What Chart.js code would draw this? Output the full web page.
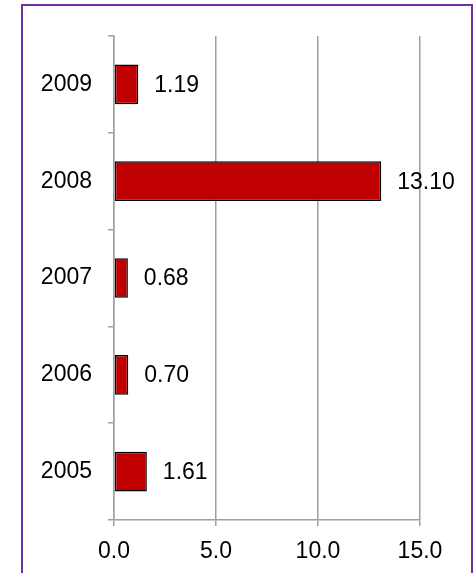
<!DOCTYPE html>
<html>
<head>
<meta charset="utf-8">
<script src="https://cdn.jsdelivr.net/npm/chart.js@4/dist/chart.umd.min.js"></script>
<style>
  html, body { margin: 0; padding: 0; background: #fff; }
  body { width: 475px; height: 573px; overflow: hidden; position: relative; }
  #frame {
    position: absolute; left: 21px; top: 4px; width: 448px; height: 600px;
    border: 2px solid #7030A0;
  }
  #wrap { position: absolute; left: 0; top: 0; width: 475px; height: 573px; }
</style>
</head>
<body>
<div id="frame"></div>
<div id="wrap"><canvas id="chart"></canvas></div>
<script>
// data
const years = ['2009', '2008', '2007', '2006', '2005'];
const values = [1.19, 13.10, 0.68, 0.70, 1.61];
const xTicks = [0, 5, 10, 15];

const labelFont = '23px "Liberation Sans", Arial, sans-serif';

// draws the value to the right of each bar
const valueLabels = {
    id: 'valueLabels',
    afterDatasetsDraw(chart) {
        const ctx = chart.ctx;
        const meta = chart.getDatasetMeta(0);
        ctx.save();
        ctx.font = labelFont;
        ctx.fillStyle = '#000';
        ctx.textAlign = 'left';
        ctx.textBaseline = 'middle';
        meta.data.forEach((bar, i) => {
            ctx.fillText(values[i].toFixed(2), bar.x + 16, bar.y + 1);
        });
        ctx.restore();
    }
};

new Chart(document.getElementById('chart'), {
    type: 'bar',
    data: {
        labels: years,
        datasets: [{
            data: values,
            backgroundColor: '#C00000',
            borderColor: '#000',
            borderWidth: 1.5,
            borderSkipped: false,
            barPercentage: 0.41,
            categoryPercentage: 1
        }]
    },
    options: {
        indexAxis: 'y',
        responsive: true,
        maintainAspectRatio: false,
        animation: false,
        layout: { padding: { top: 36, right: 55, left: 0, bottom: 0 } },
        plugins: {
            legend: { display: false },
            tooltip: { enabled: false }
        },
        scales: {
            x: {
                min: 0,
                max: 15,
                afterFit(scale) { scale.height = 53; },
                afterBuildTicks(scale) { scale.ticks = xTicks.map(v => ({ value: v })); },
                ticks: {
                    color: '#000',
                    padding: 12,
                    font: { family: '"Liberation Sans", Arial, sans-serif', size: 23 },
                    callback: v => v.toFixed(1)
                },
                grid: { color: '#A0A0A0', lineWidth: 1.5, tickLength: 6 },
                border: { color: '#A0A0A0', width: 1.5 }
            },
            y: {
                afterFit(scale) { scale.width = 114; },
                ticks: {
                    color: '#000',
                    padding: 16,
                    font: { family: '"Liberation Sans", Arial, sans-serif', size: 23 }
                },
                grid: { drawOnChartArea: false, color: '#A0A0A0', lineWidth: 1.5, tickLength: 6, offset: true },
                border: { color: '#A0A0A0', width: 1.5 }
            }
        }
    },
    plugins: [valueLabels]
});
</script>
</body>
</html>
